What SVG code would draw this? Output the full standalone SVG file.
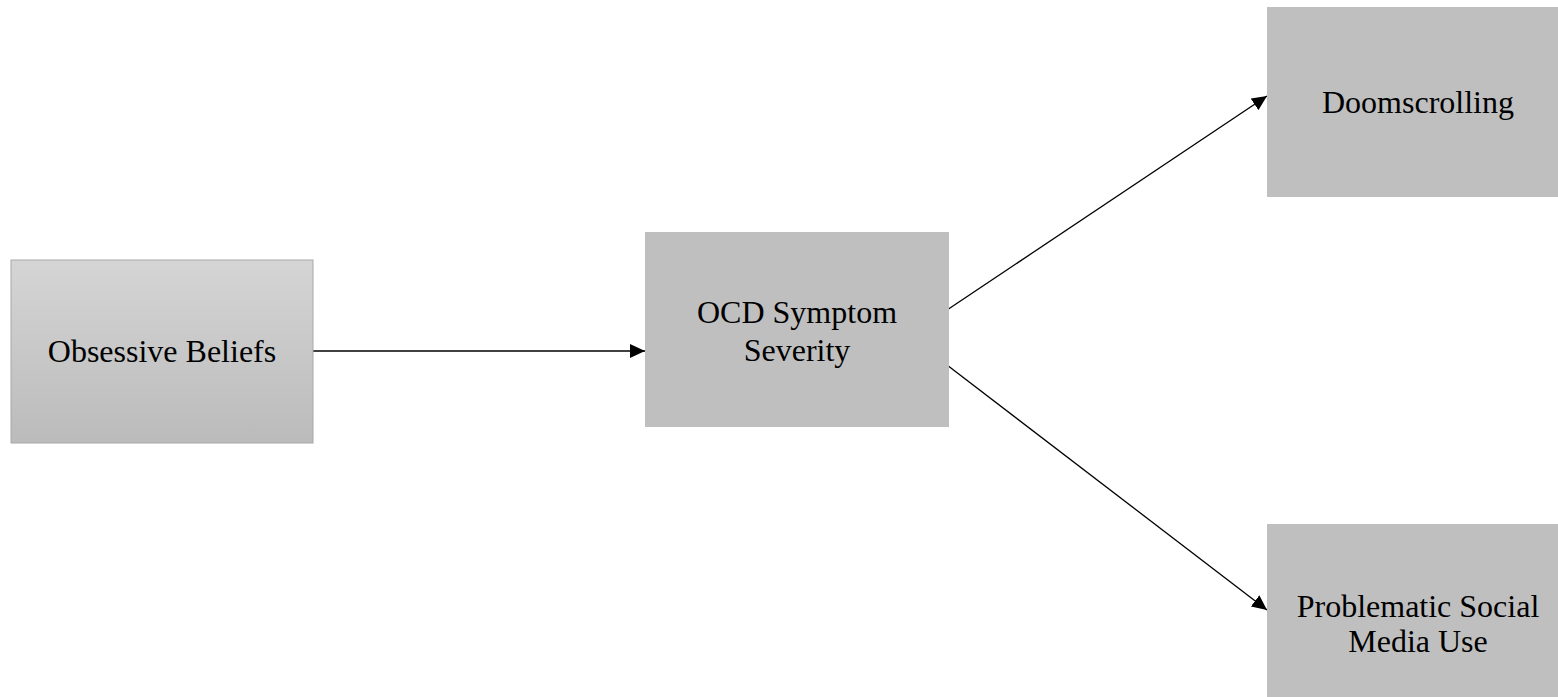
<svg xmlns="http://www.w3.org/2000/svg" width="1558" height="697" viewBox="0 0 1558 697">
<style>
.box{fill:#bfbfbf}
.lbl{font-family:"Liberation Serif","Times New Roman",serif;font-size:32px;fill:#000;text-anchor:middle}
.edge{stroke:#000;stroke-width:1.3;fill:none;marker-end:url(#ah)}
</style>
<defs>
<linearGradient id="g1" x1="0" y1="0" x2="0" y2="1">
<stop offset="0" stop-color="#d5d5d5"/>
<stop offset="1" stop-color="#bbbbbb"/>
</linearGradient>
<marker id="ah" viewBox="0 0 15 14" refX="15" refY="7" markerWidth="15" markerHeight="14" markerUnits="userSpaceOnUse" orient="auto">
<path d="M0,0 L15,7 L0,14 Z" fill="#000"/>
</marker>
</defs>
<rect width="1558" height="697" fill="#fff"/>
<g id="connectors">
<line class="edge" x1="313" y1="351" x2="645" y2="351"/>
<line class="edge" x1="947" y1="310" x2="1267" y2="96"/>
<line class="edge" x1="947" y1="365" x2="1267" y2="610"/>
</g>
<g id="obsessive">
<rect x="11" y="260" width="302" height="183" fill="url(#g1)" stroke="#a8a8a8" stroke-width="1"/>
<text class="lbl" x="162" y="362">Obsessive Beliefs</text>
</g>
<g id="ocd">
<rect class="box" x="645" y="232" width="304" height="195"/>
<text class="lbl" x="797" y="323">OCD Symptom</text>
<text class="lbl" x="797" y="361">Severity</text>
</g>
<g id="doomscrolling">
<rect class="box" x="1267" y="7" width="300" height="190"/>
<text class="lbl" x="1418" y="113">Doomscrolling</text>
</g>
<g id="problematic">
<rect class="box" x="1267" y="524" width="300" height="180"/>
<text class="lbl" x="1418" y="617">Problematic Social</text>
<text class="lbl" x="1418" y="652">Media Use</text>
</g>
</svg>
